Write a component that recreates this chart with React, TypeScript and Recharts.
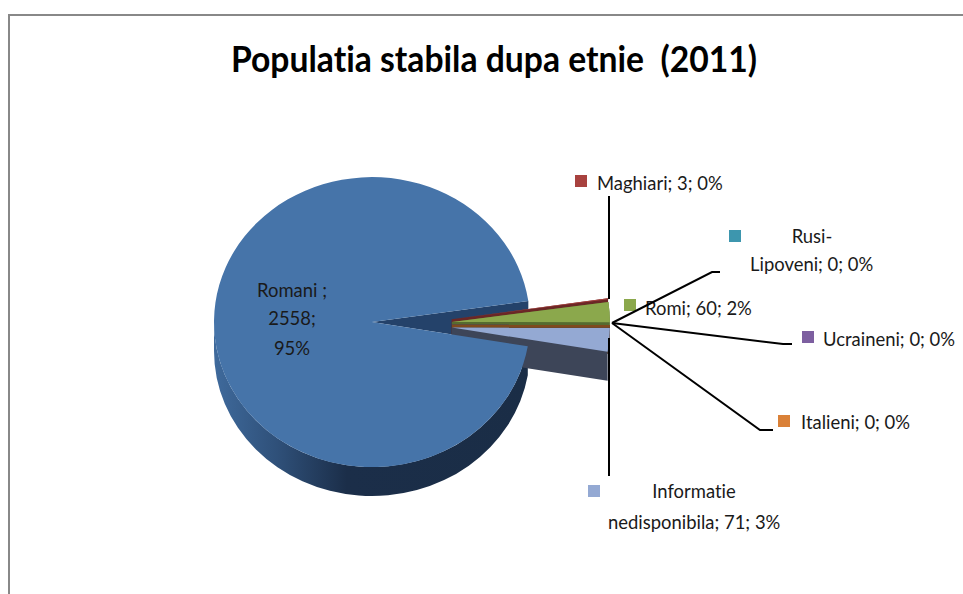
import React from "react";
import { PieChart, Pie } from "recharts";

const titleText = "Populatia stabila dupa etnie  (2011)";
const categories = ["Romani ", "Maghiari", "Romi", "Rusi-|Lipoveni", "Ucraineni", "Italieni", "Informatie|nedisponibila"];
const values = [2558, 3, 60, 0, 0, 0, 71];
const topColors = ["#4674a9", "#a8423f", "#8ba84c", "#3d96ae", "#7d5fa0", "#da8138", "#94a9d3"];
const wallColors = ["url(#mainWall)", "#6b2726", "#566b2f", "#25606e", "#4d3a63", "#7f4a1c", "#3d4558"];

const tableData = categories.map((name, i) => ({ name, value: values[i], fill: topColors[i] }));

const FONT = "Lato, sans-serif";
const SCALE_Y = 145 / 158;
const EXPLODE = 40;
const DEPTH = 29;
const RAD = Math.PI / 180;

type LabelSpot = {
  key: [number, number];
  lines: [number, number][];
  anchor: "start" | "middle";
  sep: string;
  leader?: [number, number][];
};

const labelSpots: LabelSpot[] = [
  { key: [-100, -100], lines: [[292, 297], [292, 325], [292, 355]], anchor: "middle", sep: ";|" },
  { key: [575, 175], lines: [[597, 190]], anchor: "start", sep: "; ", leader: [[609, 196], [609, 299]] },
  { key: [624, 299], lines: [[645, 315]], anchor: "start", sep: "; " },
  { key: [729, 230], lines: [[812, 243], [750, 271]], anchor: "start", sep: "; ", leader: [[612, 323], [712, 272], [720, 272]] },
  { key: [802, 331], lines: [[823, 346]], anchor: "start", sep: "; ", leader: [[612, 323], [783, 344], [792, 344]] },
  { key: [778, 415], lines: [[801, 429]], anchor: "start", sep: "; ", leader: [[612, 323], [760, 430], [773, 430]] },
  { key: [588, 485], lines: [[694, 498], [608, 529]], anchor: "start", sep: "; ", leader: [[609, 338], [609, 476]] },
];

function geometry(props: any) {
  const { cx, cy, outerRadius, startAngle, endAngle, midAngle, index } = props;
  const hi = Math.max(startAngle, endAngle);
  const lo = Math.min(startAngle, endAngle);
  const mid = midAngle ?? (hi + lo) / 2;
  const rx = outerRadius;
  const ry = outerRadius * SCALE_Y;
  const ax = cx + EXPLODE * Math.cos(mid * RAD);
  const ay = cy - EXPLODE * Math.sin(mid * RAD) * SCALE_Y + (index === 0 ? -2 : 0);
  const P = (deg: number): [number, number] => [ax + rx * Math.cos(deg * RAD), ay - ry * Math.sin(deg * RAD)];
  const [hx, hy] = P(hi);
  const [lx, ly] = P(lo);
  return { rx, ry, ax, ay, hx, hy, lx, ly, large: hi - lo > 180 ? 1 : 0 };
}

function WallShape(props: any) {
  const { index } = props;
  const { rx, ry, ax, ay, hx, hy, lx, ly } = geometry(props);
  if (index === 0) {
    const leftX = ax - rx;
    const outerWall = `M${hx},${hy} A${rx},${ry} 0 0 1 ${leftX},${ay} L${leftX},${ay + DEPTH} A${rx},${ry} 0 0 0 ${hx},${hy + DEPTH} Z`;
    const wedge = `M${ax},${ay} L${lx},${ly} L${lx},${ly + DEPTH} L${hx},${hy + DEPTH} L${hx},${hy} Z`;
    return (
      <g>
        <defs>
          <linearGradient id="mainWall" gradientUnits="userSpaceOnUse" x1={leftX} x2={ax + rx} y1="0" y2="0">
            <stop offset="0" stopColor="#3f6a9c" />
            <stop offset="0.2" stopColor="#2f5079" />
            <stop offset="0.42" stopColor="#1b2e49" />
            <stop offset="1" stopColor="#1a2d46" />
          </linearGradient>
        </defs>
        <path d={outerWall} fill={wallColors[0]} />
        <path d={wedge} fill="#24426a" />
      </g>
    );
  }
  const wall = `M${ax},${ay} L${hx},${hy} A${rx},${ry} 0 0 1 ${lx},${ly} L${lx},${ly + DEPTH} L${ax},${ay + DEPTH} Z`;
  return <path d={wall} fill={wallColors[index]} />;
}

function TopShape(props: any) {
  const { rx, ry, ax, ay, hx, hy, lx, ly, large } = geometry(props);
  return <path d={`M${ax},${ay} L${hx},${hy} A${rx},${ry} 0 ${large} 1 ${lx},${ly} Z`} fill={props.fill} />;
}

function SliceLabel(props: any) {
  const { index, name, value, percent } = props;
  const spot = labelSpots[index];
  const pct = Math.round(percent * 100);
  const full = `${name}${spot.sep}${value}${spot.sep}${pct}%`;
  const rows = full.split("|");
  return (
    <g>
      {spot.leader && (
        <polyline points={spot.leader.map((p) => p.join(",")).join(" ")} fill="none" stroke="#000" strokeWidth={2} />
      )}
      {index > 0 && <rect x={spot.key[0]} y={spot.key[1]} width={12} height={12} fill={topColors[index]} />}
      {rows.map((row, i) => {
        const [tx, ty] = spot.lines[i];
        const centered = spot.anchor === "middle" || (rows.length > 1 && i === 0);
        return (
          <text
            key={i}
            transform={`translate(${tx},${ty}) scale(0.945,1)`}
            textAnchor={centered ? "middle" : "start"}
            fontFamily={FONT}
            fontSize={19.5}
            fill="#1a1a1a"
            style={{ fontVariantLigatures: "none" }}
          >
            {row}
          </text>
        );
      })}
    </g>
  );
}

export default function App() {
  return (
    <div style={{ position: "absolute", left: 0, top: 0, width: 963, height: 594, background: "#fff", overflow: "hidden" }}>
      <div
        style={{
          position: "absolute",
          left: 8,
          top: 14,
          width: 955,
          height: 580,
          borderLeft: "2px solid #888",
          borderTop: "2px solid #888",
          boxSizing: "border-box",
        }}
      />
      <div
        style={{
          position: "absolute",
          left: 0,
          top: 33,
          width: 988,
          textAlign: "center",
          fontFamily: FONT,
          fontWeight: 700,
          fontSize: 37,
          lineHeight: "50px",
          color: "#000",
          whiteSpace: "pre",
          fontVariantLigatures: "none",
          transform: "scaleX(0.91)",
        }}
      >
        {titleText}
      </div>
      <div style={{ position: "absolute", left: 0, top: 0 }}>
        <PieChart width={963} height={594} margin={{ top: 0, right: 0, bottom: 0, left: 0 }}>
          <Pie
            data={tableData}
            dataKey="value"
            nameKey="name"
            cx={412}
            cy={324.5}
            innerRadius={0}
            outerRadius={158}
            startAngle={-9.6}
            endAngle={-369.6}
            stroke="none"
            shape={WallShape}
            label={false}
            labelLine={false}
            isAnimationActive={false}
          />
          <Pie
            data={tableData}
            dataKey="value"
            nameKey="name"
            cx={412}
            cy={324.5}
            innerRadius={0}
            outerRadius={158}
            startAngle={-9.6}
            endAngle={-369.6}
            stroke="none"
            shape={TopShape}
            label={SliceLabel}
            labelLine={false}
            isAnimationActive={false}
          />
        </PieChart>
      </div>
    </div>
  );
}
